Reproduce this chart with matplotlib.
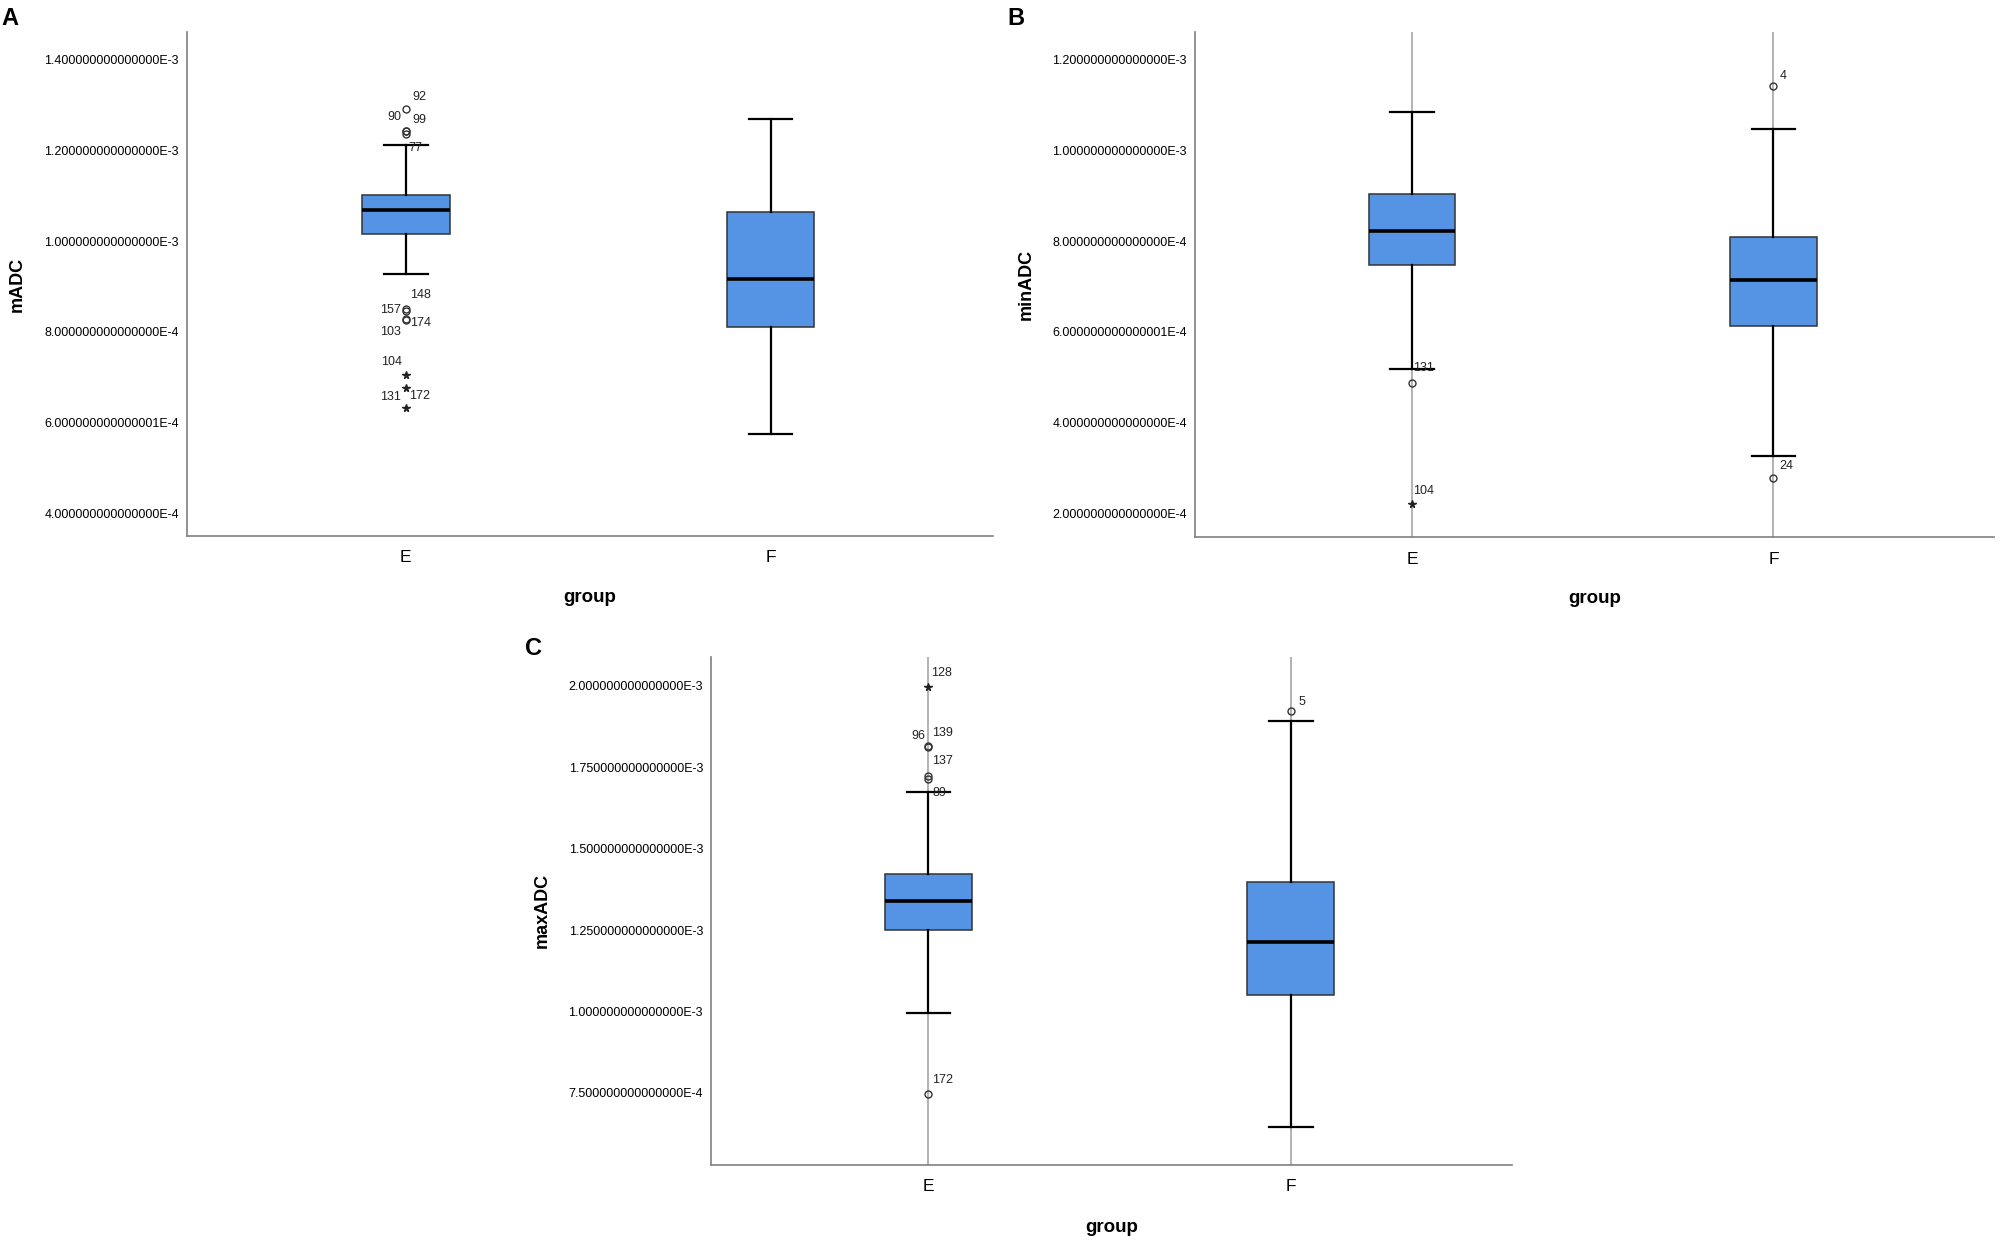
import numpy as np
from matplotlib import pyplot as plt

plt.rcParams['font.family'] = ['Liberation Sans', 'DejaVu Sans']

groups = ["E", "F"]

# panel A - mADC
a_lo = [0.927e-3, 0.5747e-3]
a_q1 = [1.015e-3, 0.8113e-3]
a_med = [1.068e-3, 0.9172e-3]
a_q3 = [1.101e-3, 1.065e-3]
a_hi = [1.2133e-3, 1.2697e-3]
a_out_grp = [0, 0, 0, 0, 0, 0, 0, 0, 0, 0, 0]
a_out_val = [1.292e-3, 1.2426e-3, 1.2426e-3, 1.2369e-3, 8.50e-4, 8.45e-4, 8.29e-4, 8.27e-4, 7.042e-4, 6.771e-4, 6.308e-4]
a_out_id = ["92", "90", "99", "77", "148", "157", "174", "103", "104", "172", "131"]
a_out_kind = ["o", "o", "o", "o", "o", "o", "o", "o", "*", "*", "*"]
a_ticks = [4e-4, 6e-4, 8e-4, 1.0e-3, 1.2e-3, 1.4e-3]
a_ticklabels = ["4.000000000000000E-4", "6.000000000000001E-4", "8.000000000000000E-4",
                "1.000000000000000E-3", "1.200000000000000E-3", "1.400000000000000E-3"]

# panel B - minADC
b_lo = [5.191e-4, 3.261e-4]
b_q1 = [7.487e-4, 6.139e-4]
b_med = [8.217e-4, 7.148e-4]
b_q3 = [9.052e-4, 8.104e-4]
b_hi = [1.0861e-3, 1.0478e-3]
b_out_grp = [0, 0, 1, 1]
b_out_val = [4.870e-4, 2.20e-4, 1.1417e-3, 2.783e-4]
b_out_id = ["131", "104", "4", "24"]
b_out_kind = ["o", "*", "o", "o"]
b_ticks = [2e-4, 4e-4, 6e-4, 8e-4, 1.0e-3, 1.2e-3]
b_ticklabels = ["2.000000000000000E-4", "4.000000000000000E-4", "6.000000000000001E-4",
                "8.000000000000000E-4", "1.000000000000000E-3", "1.200000000000000E-3"]

# panel C - maxADC
c_lo = [0.995e-3, 0.6458e-3]
c_q1 = [1.25e-3, 1.0515e-3]
c_med = [1.3407e-3, 1.2132e-3]
c_q3 = [1.4228e-3, 1.397e-3]
c_hi = [1.673e-3, 1.8934e-3]
c_out_grp = [0, 0, 0, 0, 0, 0, 1]
c_out_val = [1.9976e-3, 1.814e-3, 1.812e-3, 1.7228e-3, 1.7129e-3, 7.475e-4, 1.924e-3]
c_out_id = ["128", "96", "139", "137", "89", "172", "5"]
c_out_kind = ["*", "o", "o", "o", "o", "o", "o"]
c_ticks = [7.5e-4, 1.0e-3, 1.25e-3, 1.5e-3, 1.75e-3, 2.0e-3]
c_ticklabels = ["7.500000000000000E-4", "1.000000000000000E-3", "1.250000000000000E-3",
                "1.500000000000000E-3", "1.750000000000000E-3", "2.000000000000000E-3"]

# label offsets (pixels, right / up) for the case numbers
a_dx = [14, -11, 14, 10, 15, -15, 15, -15, -14, 14, -15]
a_dy = [12, 14, 11, -14, 14, 1, -4, -12, 13, -8, 11]
b_dx = [12, 12, 10, 13]
b_dy = [15, 13, 10, 12]
c_dx = [13, -10, 14, 14, 11, 14, 11]
c_dy = [14, 10, 14, 15, -14, 14, 9]

BOX_COL = "#5593E4"


def draw_panel(ax, lo, q1, med, q3, hi, o_grp, o_val, o_id, o_kind, dx, dy,
               ticks, ticklabels, ylim, ylabel, guide):
    if guide:
        for i in range(len(groups)):
            ax.axvline(i, color="#a6a6a6", lw=1.2, zorder=0)
    stats = []
    for i in range(len(groups)):
        stats.append(dict(whislo=lo[i], q1=q1[i], med=med[i], q3=q3[i], whishi=hi[i], fliers=[]))
    ax.bxp(stats, positions=range(len(groups)), widths=0.24, capwidths=0.12,
           patch_artist=True, showfliers=False,
           boxprops=dict(facecolor=BOX_COL, edgecolor="#333333", lw=1.1),
           medianprops=dict(color="black", lw=2.6),
           whiskerprops=dict(color="black", lw=1.6),
           capprops=dict(color="black", lw=1.6))
    for g, v, name, k, ddx, ddy in zip(o_grp, o_val, o_id, o_kind, dx, dy):
        if k == "o":
            ax.plot(g, v, "o", mfc="none", mec="#333333", ms=5, mew=1.0, zorder=4)
        else:
            ax.plot(g, v, "*", color="#222222", ms=5.5, zorder=4)
        ax.annotate(name, (g, v), xytext=(ddx, ddy), textcoords="offset pixels",
                    ha="center", va="center", fontsize=9, color="#222222")
    ax.set_xlim(-0.6, 1.61)
    ax.set_ylim(*ylim)
    ax.set_xticks(range(len(groups)))
    ax.set_xticklabels(groups, fontsize=12.5)
    ax.set_yticks(ticks)
    ax.set_yticklabels(ticklabels, fontsize=9)
    ax.tick_params(axis="both", length=0)
    ax.tick_params(axis="y", pad=5.8)
    ax.tick_params(axis="x", pad=10.5)
    for s in ["top", "right"]:
        ax.spines[s].set_visible(False)
    for s in ["left", "bottom"]:
        ax.spines[s].set_color("#808080")
        ax.spines[s].set_linewidth(1.2)
    ax.set_ylabel(ylabel, fontsize=13, fontweight="bold")
    ax.set_xlabel("group", fontsize=13.5, fontweight="bold")
    ax.yaxis.set_label_coords(-0.2, 0.5)
    ax.xaxis.set_label_coords(0.5, -0.106)


fig = plt.figure(figsize=(20, 12.43), dpi=100)
ax_a = fig.add_axes([0.0935, 0.569, 0.403, 0.405])
ax_b = fig.add_axes([0.5975, 0.568, 0.3995, 0.406])
ax_c = fig.add_axes([0.3555, 0.063, 0.4005, 0.4087])

draw_panel(ax_a, a_lo, a_q1, a_med, a_q3, a_hi, a_out_grp, a_out_val, a_out_id, a_out_kind,
           a_dx, a_dy, a_ticks, a_ticklabels, (3.50e-4, 1.461e-3), "mADC", False)
draw_panel(ax_b, b_lo, b_q1, b_med, b_q3, b_hi, b_out_grp, b_out_val, b_out_id, b_out_kind,
           b_dx, b_dy, b_ticks, b_ticklabels, (1.478e-4, 1.261e-3), "minADC", True)
draw_panel(ax_c, c_lo, c_q1, c_med, c_q3, c_hi, c_out_grp, c_out_val, c_out_id, c_out_kind,
           c_dx, c_dy, c_ticks, c_ticklabels, (5.294e-4, 2.0895e-3), "maxADC", True)

fig.text(10 / 2000, 1 - 25 / 1243, "A", fontsize=17, fontweight="bold", ha="center", va="baseline")
fig.text(1016 / 2000, 1 - 25 / 1243, "B", fontsize=17, fontweight="bold", ha="center", va="baseline")
fig.text(534 / 2000, 1 - 655 / 1243, "C", fontsize=17, fontweight="bold", ha="center", va="baseline")

fig.savefig("out.png", dpi=100, facecolor="white")
